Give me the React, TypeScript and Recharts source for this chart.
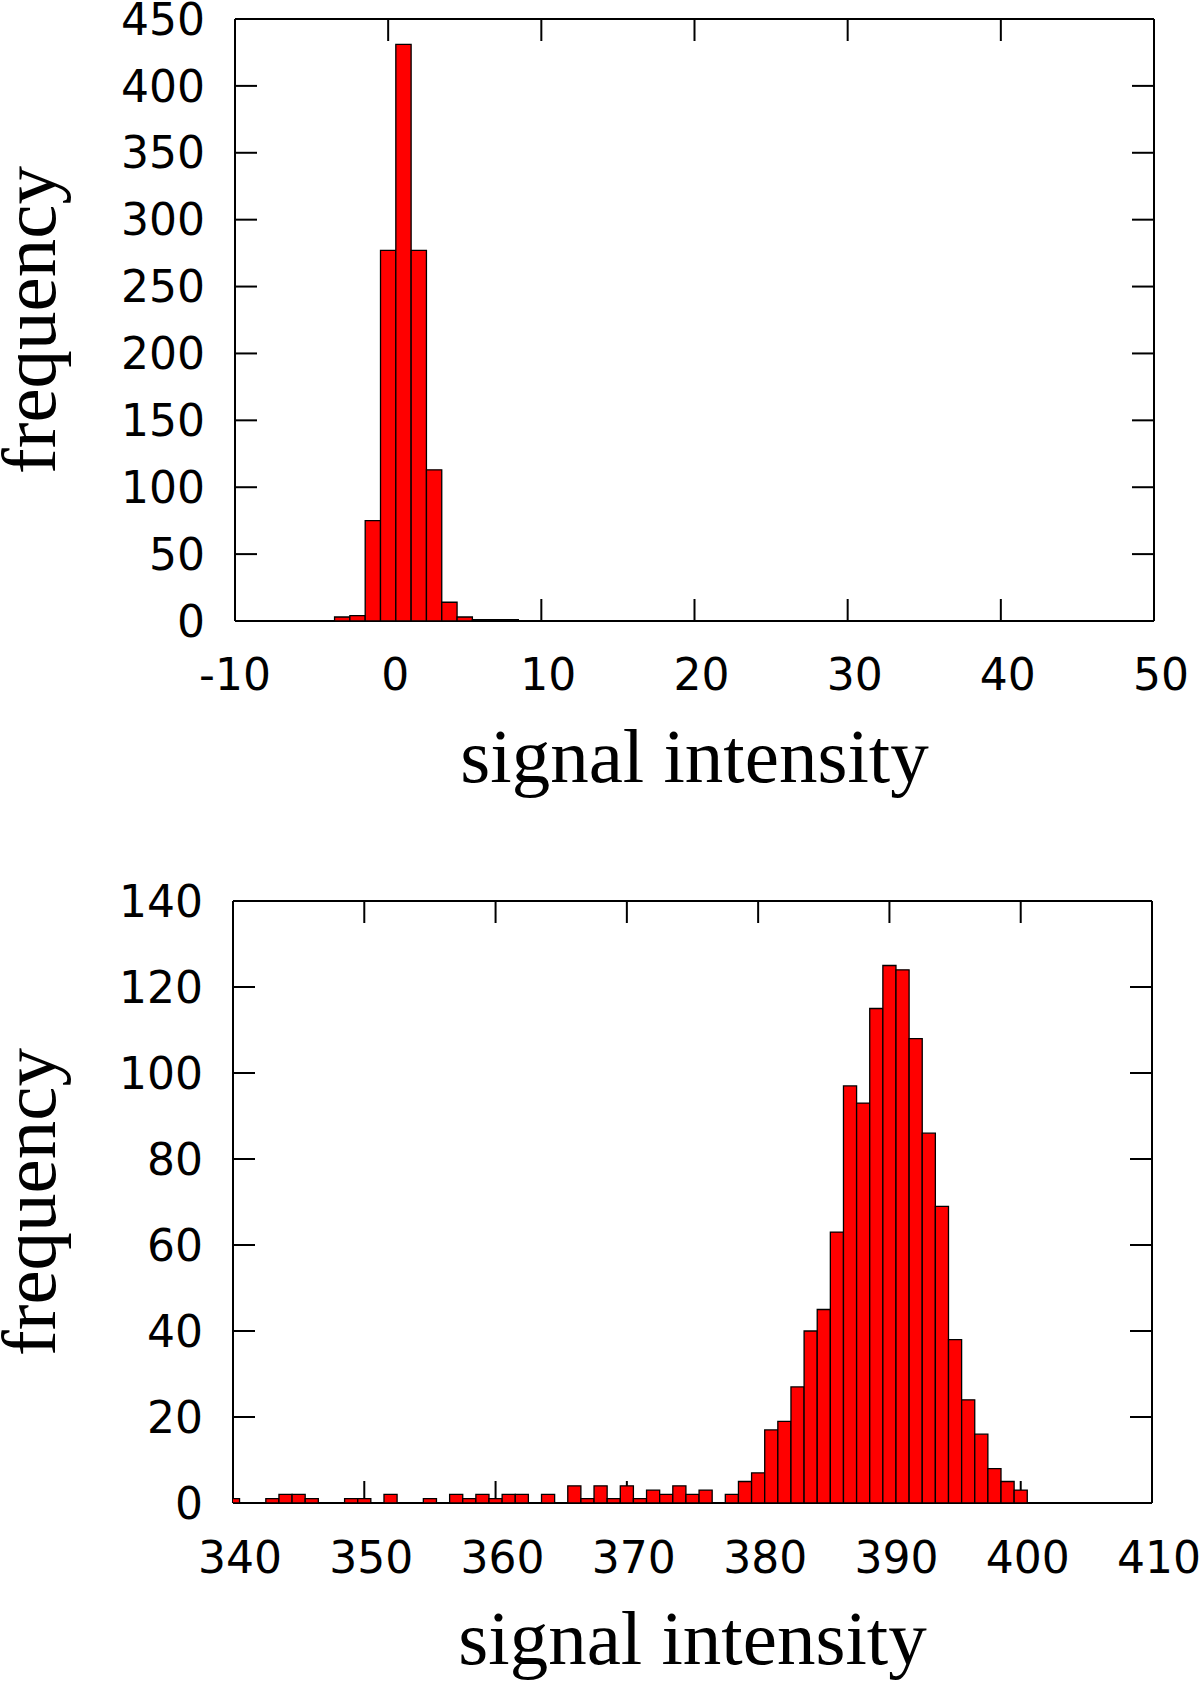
import { BarChart, Bar, XAxis, YAxis, Label } from "recharts";

// 상단 히스토그램: signal intensity -3 ~ 8 (구간 폭 1)
const topBins = [-3, -2, -1, 0, 1, 2, 3, 4, 5, 6, 7, 8];
const topCounts = [3, 4, 75, 277, 431, 277, 113, 14, 3, 1, 1, 1];
const topXTicks = [-10, 0, 10, 20, 30, 40, 50];
const topYTicks = [0, 50, 100, 150, 200, 250, 300, 350, 400, 450];

// 하단 히스토그램: signal intensity 340 ~ 400 (구간 폭 1)
const bottomBins = [
  340, 341, 342, 343, 344, 345, 346, 347, 348, 349,
  350, 351, 352, 353, 354, 355, 356, 357, 358, 359,
  360, 361, 362, 363, 364, 365, 366, 367, 368, 369,
  370, 371, 372, 373, 374, 375, 376, 377, 378, 379,
  380, 381, 382, 383, 384, 385, 386, 387, 388, 389,
  390, 391, 392, 393, 394, 395, 396, 397, 398, 399,
  400,
];
const bottomCounts = [
  1, 0, 0, 1, 2, 2, 1, 0, 0, 1,
  1, 0, 2, 0, 0, 1, 0, 2, 1, 2,
  1, 2, 2, 0, 2, 0, 4, 1, 4, 1,
  4, 1, 3, 2, 4, 2, 3, 0, 2, 5,
  7, 17, 19, 27, 40, 45, 63, 97, 93, 115,
  125, 124, 108, 86, 69, 38, 24, 16, 8, 5,
  3,
];
const bottomXTicks = [340, 350, 360, 370, 380, 390, 400, 410];
const bottomYTicks = [0, 20, 40, 60, 80, 100, 120, 140];

const TICK_FONT = "'DejaVu Sans', Verdana, sans-serif";
const TITLE_FONT = "'Liberation Serif', 'Times New Roman', serif";
const AXIS_STYLE = { stroke: "#000", strokeWidth: 2 };
const CHART_W = 1200;
const TICK_LEN = 22; // gnuplot 안쪽 눈금 길이

interface HistProps {
  bins: number[];
  counts: number[];
  xDomain: [number, number];
  xTicks: number[];
  yTicks: number[];
  height: number;
  plotTop: number;
  plotBottom: number;
  plotLeft: number;
  plotRight: number;
  xTickMargin: number;
}

function Histogram({
  bins,
  counts,
  xDomain,
  xTicks,
  yTicks,
  height,
  plotTop,
  plotBottom,
  plotLeft,
  plotRight,
  xTickMargin,
}: HistProps) {
  const data = bins.map((b, i) => ({ x: b, count: counts[i] }));
  const plotW = plotRight - plotLeft;
  const barSize = plotW / (xDomain[1] - xDomain[0]) - 0.02;
  const midX = plotLeft + plotW / 2;
  const midY = (plotTop + plotBottom) / 2;
  const yDomain: [number, number] = [yTicks[0], yTicks[yTicks.length - 1]];

  // 아래쪽 눈금 + 라벨 (gnuplot "% g" 포맷: 양수 앞 공백 때문에 반 칸 오른쪽)
  // eslint-disable-next-line @typescript-eslint/no-explicit-any
  const BottomTick = ({ x, y, payload }: any) => (
    <g>
      <line x1={x} x2={x} y1={plotBottom} y2={plotBottom - TICK_LEN} {...AXIS_STYLE} />
      <text
        x={x + (payload.value < 0 ? 0 : 7)}
        y={y}
        dy="0.71em"
        textAnchor="middle"
        fontFamily={TICK_FONT}
        fontSize={44}
        fill="#000">
        {payload.value}
      </text>
    </g>
  );

  // eslint-disable-next-line @typescript-eslint/no-explicit-any
  const TopTick = ({ x }: any) => (
    <line x1={x} x2={x} y1={plotTop} y2={plotTop + TICK_LEN} {...AXIS_STYLE} />
  );

  // eslint-disable-next-line @typescript-eslint/no-explicit-any
  const LeftTick = ({ x, y, payload }: any) => (
    <g>
      <line x1={plotLeft} x2={plotLeft + TICK_LEN} y1={y} y2={y} {...AXIS_STYLE} />
      <text
        x={x}
        y={y}
        dy="0.355em"
        textAnchor="end"
        fontFamily={TICK_FONT}
        fontSize={44}
        fill="#000">
        {payload.value}
      </text>
    </g>
  );

  // eslint-disable-next-line @typescript-eslint/no-explicit-any
  const RightTick = ({ y }: any) => (
    <line x1={plotRight} x2={plotRight - TICK_LEN} y1={y} y2={y} {...AXIS_STYLE} />
  );

  const layer = { position: "absolute" as const, left: 0, top: 0 };

  return (
    <div style={{ position: "relative", width: CHART_W, height }}>
      {/* 1층: 축, 눈금, 제목 */}
      <div style={layer}>
        <BarChart
          width={CHART_W}
          height={height}
          data={data}
          margin={{ top: 0, right: 0, bottom: 0, left: 0 }}>
          <XAxis
            xAxisId="bottom"
            dataKey="x"
            type="number"
            domain={xDomain}
            ticks={xTicks}
            interval={0}
            allowDataOverflow
            height={height - plotBottom}
            tickSize={-TICK_LEN}
            tickMargin={xTickMargin}
            tick={<BottomTick />}
            axisLine={AXIS_STYLE}
            tickLine={false}>
            <Label
              content={() => (
                <text
                  x={midX}
                  y={plotBottom + 161}
                  textAnchor="middle"
                  fontFamily={TITLE_FONT}
                  fontSize={77}
                  fill="#000">
                  signal intensity
                </text>
              )}
            />
          </XAxis>
          <XAxis
            xAxisId="top"
            orientation="top"
            dataKey="x"
            type="number"
            domain={xDomain}
            ticks={xTicks}
            interval={0}
            allowDataOverflow
            height={plotTop}
            tick={<TopTick />}
            axisLine={AXIS_STYLE}
            tickLine={false}
          />
          <YAxis
            yAxisId="left"
            dataKey="count"
            type="number"
            domain={yDomain}
            ticks={yTicks}
            interval={0}
            allowDataOverflow
            width={plotLeft}
            tickSize={-TICK_LEN}
            tickMargin={52}
            tick={<LeftTick />}
            axisLine={AXIS_STYLE}
            tickLine={false}>
            <Label
              content={() => (
                <text
                  x={55}
                  y={midY}
                  transform={`rotate(-90 55 ${midY})`}
                  textAnchor="middle"
                  fontFamily={TITLE_FONT}
                  fontSize={77}
                  fill="#000">
                  frequency
                </text>
              )}
            />
          </YAxis>
          <YAxis
            yAxisId="right"
            orientation="right"
            dataKey="count"
            type="number"
            domain={yDomain}
            ticks={yTicks}
            interval={0}
            allowDataOverflow
            width={CHART_W - plotRight}
            tick={<RightTick />}
            axisLine={AXIS_STYLE}
            tickLine={false}
          />
        </BarChart>
      </div>
      {/* 2층: 막대 (gnuplot처럼 눈금 위에 그림) */}
      <div style={layer}>
        <BarChart
          width={CHART_W}
          height={height}
          data={data}
          margin={{
            top: plotTop,
            right: CHART_W - plotRight,
            bottom: height - plotBottom,
            left: plotLeft,
          }}
          barCategoryGap={0}
          barGap={0}>
          <XAxis
            dataKey="x"
            type="number"
            domain={xDomain}
            allowDataOverflow
            hide
          />
          <YAxis type="number" domain={yDomain} allowDataOverflow hide />
          <Bar
            dataKey="count"
            fill="#ff0000"
            stroke="#000"
            strokeWidth={1.3}
            barSize={barSize}
            isAnimationActive={false}
          />
        </BarChart>
      </div>
    </div>
  );
}

export default function App() {
  return (
    <div
      style={{
        position: "absolute",
        left: 0,
        top: 0,
        width: 1200,
        height: 1682,
        background: "#fff",
        overflow: "hidden",
      }}>
      <Histogram
        bins={topBins}
        counts={topCounts}
        xDomain={[-10, 50]}
        xTicks={topXTicks}
        yTicks={topYTicks}
        height={840}
        plotTop={19}
        plotBottom={621}
        plotLeft={235}
        plotRight={1154}
        xTickMargin={60}
      />
      <Histogram
        bins={bottomBins}
        counts={bottomCounts}
        xDomain={[340, 410]}
        xTicks={bottomXTicks}
        yTicks={bottomYTicks}
        height={842}
        plotTop={61}
        plotBottom={663}
        plotLeft={233}
        plotRight={1152}
        xTickMargin={61}
      />
    </div>
  );
}
